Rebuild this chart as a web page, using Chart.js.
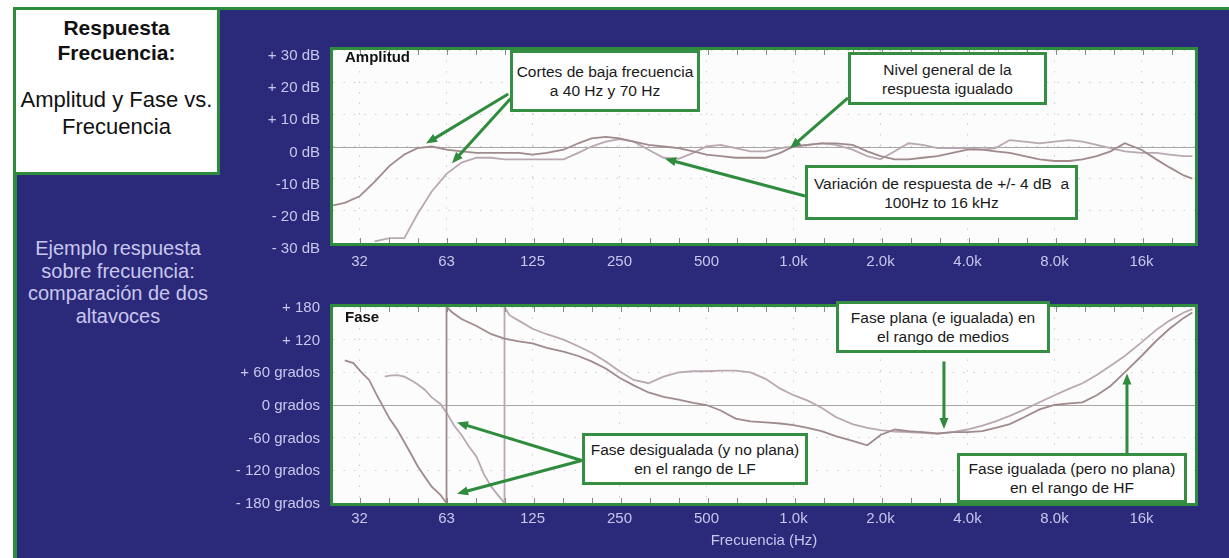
<!DOCTYPE html>
<html lang="es">
<head>
<meta charset="utf-8">
<title>Respuesta Frecuencia: Amplitud y Fase vs. Frecuencia</title>
<script src="https://cdn.jsdelivr.net/npm/chart.js@4.4.1/dist/chart.umd.min.js"></script>
<style>
  html, body { margin: 0; padding: 0; }
  body {
    width: 1229px; height: 558px; position: relative; overflow: hidden;
    background: #fff; font-family: "Liberation Sans", Arial, Helvetica, sans-serif;
  }
  #panel {
    position: absolute; left: 13px; top: 7px; right: 0; bottom: 0;
    background: #2b2a7a; border-left: 4px solid #2d8c3c; border-top: 3px solid #2d8c3c;
  }
  #titleBox {
    position: absolute; left: 13px; top: 7px; width: 207px; height: 168px;
    box-sizing: border-box; background: #fff; border: 3px solid #2d8c3c;
    text-align: center; color: #111;
  }
  #titleBox .t1 { font-weight: bold; font-size: 21px; line-height: 25px; }
  #titleBox .t2 { font-size: 22px; line-height: 27px; }
  #subtitle {
    position: absolute; left: 17px; top: 237px; width: 202px;
    text-align: center; color: #c9c6ee; font-size: 20px; line-height: 22.5px;
  }
  .wrap { position: absolute; left: 200px; }
  .wrap canvas { display: block; }
  .note {
    position: absolute; box-sizing: border-box; background: #fff;
    border: 3px solid #358e42; color: #1a1a1a; font-size: 15.5px; line-height: 19px;
    text-align: center; display: flex; flex-direction: column; justify-content: center;
  }
  .plotLabel { position: absolute; font-weight: bold; font-size: 15px; line-height: 18px; color: #111; }
</style>
</head>
<body>
<div id="panel"></div>
<div id="titleBox">
  <div class="t1" style="margin-top:5px">Respuesta</div>
  <div class="t1">Frecuencia:</div>
  <div class="t2" style="margin-top:21px">Amplitud y Fase vs.</div>
  <div class="t2">Frecuencia</div>
</div>
<div id="subtitle">Ejemplo respuesta<br>sobre frecuencia:<br>comparación de dos<br>altavoces</div>

<div class="wrap" style="top:28px"><canvas id="ampChart" width="1029" height="252"></canvas></div>
<div class="wrap" style="top:285px"><canvas id="phaseChart" width="1029" height="273"></canvas></div>

<div class="plotLabel" style="left:345px;top:48px">Amplitud</div>
<div class="plotLabel" style="left:345px;top:308px">Fase</div>

<div class="note" style="left:510px;top:50px;width:190px;height:62px">Cortes de baja frecuencia<br>a 40 Hz y 70 Hz</div>
<div class="note" style="left:848px;top:52px;width:199px;height:53px">Nivel general de la<br>respuesta igualado</div>
<div class="note" style="left:805px;top:165px;width:273px;height:55px">Variación de respuesta de +/- 4 dB&nbsp; a<br>100Hz to 16 kHz</div>
<div class="note" style="left:582px;top:433px;width:226px;height:52px">Fase desigualada (y no plana)<br>en el rango de LF</div>
<div class="note" style="left:836px;top:301px;width:214px;height:52px">Fase plana (e igualada) en<br>el rango de medios</div>
<div class="note" style="left:957px;top:453px;width:230px;height:50px">Fase igualada (pero no plana)<br>en el rango de HF</div>

<script>
// ---- axis ticks ----
const freqTicks = [31.5, 63, 125, 250, 500, 1000, 2000, 4000, 8000, 16000];
const freqTickLabels = ['32', '63', '125', '250', '500', '1.0k', '2.0k', '4.0k', '8.0k', '16k'];
const ampTicks = [-30, -20, -10, 0, 10, 20, 30];
const ampTickLabels = ['- 30 dB', '- 20 dB', '-10 dB', '0 dB', '+ 10 dB', '+ 20 dB', '+ 30 dB'];
const phaseTicks = [-180, -120, -60, 0, 60, 120, 180];
const phaseTickLabels = ['- 180 grados', '- 120 grados', '-60 grados', '0 grados', '+ 60 grados', '+ 120', '+ 180'];

// ---- amplitude (dB), two speakers ----
const ampFreq = [25, 28, 31.5, 35.5, 40, 45, 50, 56, 63, 71, 80, 90, 100, 112, 125, 140, 160, 180, 200, 224,
  250, 280, 315, 355, 400, 450, 500, 560, 630, 710, 800, 900, 1000, 1120, 1250, 1400, 1600, 1800, 2000, 2240,
  2500, 2800, 3150, 3550, 4000, 4500, 5000, 5600, 6300, 7100, 8000, 9000, 10000, 11200, 12500, 14000, 16000,
  18000, 20000, 22400, 24000];
const ampA = [-18.5, -17.5, -15.5, -11, -6, -2.5, -0.5, 0, -1, -1.5, -2, -2, -2, -2, -2.5, -2, -1, 1, 2.5, 3,
  2.5, 1.5, 0.5, 0, -0.5, -1.5, -2.5, -3, -3.5, -3.5, -3.5, -2, 0, 0.5, 1, 1, 0.5, -1.5, -3, -4,
  -4, -3.5, -3, -2, -1, -1, -1.5, -2, -3, -4, -4.5, -4.5, -4, -3, -1.5, 1, -1,
  -4, -6.5, -9, -10];
const ampB = [null, null, null, -29.5, -28.5, -28.5, -21, -14, -8.5, -5, -3.5, -3.5, -4, -4, -4, -4, -4, -2, 0, 1.5,
  2.3, 1.5, -1, -3.5, -3.8, -2, 0, 0.5, -0.5, -1.5, -1.5, -0.5, 0, 0.5, 1, 0.5, -1, -3, -4, -1.5,
  1, 0.5, -0.5, -0.5, -0.5, -1, -0.5, 2, 1.5, 1, 1.5, 2, 1.5, 0.5, -0.5, -1.5, -2,
  -2, -2.5, -3, -3];

// ---- phase (degrees), two speakers, wrapped at +/-180 ----
const phaseFreqA = [28, 30, 32, 34, 36, 38, 40, 42.5, 45, 47.5, 50, 53, 56, 60, 63, 63, 66, 71, 80, 90,
  100, 112, 125, 140, 160, 180, 200, 224, 250, 280, 315, 355, 400, 450, 500, 560, 630, 710, 800, 900,
  1000, 1120, 1250, 1400, 1600, 1800, 2000, 2240, 2500, 2800, 3150, 3550, 4000, 4500, 5000, 5600, 6300, 7100,
  8000, 9000, 10000, 11200, 12500, 14000, 16000, 18000, 20000, 22400, 24000];
const phaseA = [82, 77, 60, 46, 20, -3, -25, -45, -68, -90, -112, -132, -150, -165, -180, 180, 170, 158, 145, 130,
  122, 117, 113, 105, 98, 90, 80, 67, 50, 36, 23, 15, 10, 4, 0, -10, -25, -30, -32, -34,
  -37, -42, -48, -57, -66, -74, -55, -45, -48, -50, -52, -50, -50, -48, -42, -35, -22, -8,
  0, 3, 5, 18, 35, 60, 90, 118, 140, 160, 170];
const phaseFreqB = [38.5, 40, 42.5, 45, 48, 50, 53, 56, 60, 63, 67, 71, 75, 80, 85, 90, 95, 100, 100, 104,
  112, 125, 140, 160, 180, 200, 224, 250, 280, 315, 355, 400, 450, 500, 560, 630, 710, 800, 900, 1000,
  1120, 1250, 1400, 1600, 1800, 2000, 2240, 2500, 2800, 3150, 3550, 4000, 4500, 5000, 5600, 6300, 7100, 8000,
  9000, 10000, 11200, 12500, 14000, 16000, 18000, 20000, 22400, 24000];
const phaseB = [52, 54, 55, 52, 44, 38, 28, 14, 2, -14, -38, -55, -75, -95, -128, -150, -166, -180, 180, 165,
  155, 140, 130, 120, 108, 96, 80, 62, 46, 40, 52, 60, 62, 62, 63, 63, 60, 48, 30, 18,
  8, -5, -22, -35, -42, -46, -49, -50, -51, -53, -50, -45, -38, -30, -20, -8, 5, 18,
  30, 40, 55, 72, 90, 115, 138, 155, 170, 176];

// annotation arrows, in data units [Hz, value]
const ampArrows = [
  { from: [103, 16.3], to: [53.5, 0.9] },
  { from: [105, 14.9], to: [65.8, -5.2] },
  { from: [1543, 15.1], to: [972, -0.6] },
  { from: [1096, -15.4], to: [359, -3.8] }
];
const phaseArrows = [
  { from: [185, -102], to: [68.5, -32] },
  { from: [185, -102], to: [68.5, -163] },
  { from: [3315, 80], to: [3315, -44] },
  { from: [14250, -97], to: [14250, 58] }
];

const green = '#2f8b3d';
const tickColor = '#c9c6ee';
const lineA = '#a08a8c';
const lineB = '#b9a8b2';

Chart.defaults.font.family = '"Liberation Sans", Arial, Helvetica, sans-serif';

const pts = (xs, ys) => xs.map((x, i) => ({ x: x, y: ys[i] }));

function framePlugin(arrows) {
  return {
    id: 'frame',
    beforeDraw(chart) {
      const { ctx, chartArea: a } = chart;
      ctx.save();
      ctx.fillStyle = '#fcfcfc';
      ctx.fillRect(a.left, a.top, a.width, a.height);
      ctx.restore();
    },
    beforeDatasetsDraw(chart) {
      const { ctx, chartArea: a, scales } = chart;
      const y0 = Math.round(scales.y.getPixelForValue(0)) + 0.5;
      ctx.save();
      ctx.strokeStyle = '#aaa5a7';
      ctx.lineWidth = 1;
      ctx.beginPath();
      ctx.moveTo(a.left, y0);
      ctx.lineTo(a.right, y0);
      ctx.stroke();
      ctx.restore();
    },
    afterDatasetsDraw(chart) {
      const { ctx, scales: { x, y } } = chart;
      ctx.save();
      ctx.strokeStyle = green;
      ctx.fillStyle = green;
      ctx.lineWidth = 3;
      arrows.forEach(ar => {
        const x1 = x.getPixelForValue(ar.from[0]), y1 = y.getPixelForValue(ar.from[1]);
        const x2 = x.getPixelForValue(ar.to[0]), y2 = y.getPixelForValue(ar.to[1]);
        const ang = Math.atan2(y2 - y1, x2 - x1);
        const c = Math.cos(ang), s = Math.sin(ang);
        const head = 11, half = 4.5;
        ctx.beginPath();
        ctx.moveTo(x1, y1);
        ctx.lineTo(x2 - c * head * 0.7, y2 - s * head * 0.7);
        ctx.stroke();
        ctx.beginPath();
        ctx.moveTo(x2, y2);
        ctx.lineTo(x2 - head * c + half * s, y2 - head * s - half * c);
        ctx.lineTo(x2 - head * c - half * s, y2 - head * s + half * c);
        ctx.closePath();
        ctx.fill();
      });
      ctx.restore();
    },
    afterDraw(chart) {
      const { ctx, chartArea: a, scales: { x } } = chart;
      ctx.save();
      // small third-octave marks on the top and bottom edges
      ctx.strokeStyle = '#8c8888';
      ctx.lineWidth = 1;
      for (let k = -1; k <= 30; k++) {
        const px = Math.round(x.getPixelForValue(31.5 * Math.pow(2, k / 3))) + 0.5;
        if (px <= a.left + 2 || px >= a.right - 2) continue;
        ctx.beginPath();
        ctx.moveTo(px, a.top); ctx.lineTo(px, a.top + 5);
        ctx.moveTo(px, a.bottom); ctx.lineTo(px, a.bottom - 5);
        ctx.stroke();
      }
      ctx.strokeStyle = green;
      ctx.lineWidth = 3;
      ctx.strokeRect(a.left - 1.5, a.top - 1.5, a.width + 3, a.height + 3);
      ctx.restore();
    }
  };
}

function makeChart(id, datasets, cfg) {
  return new Chart(document.getElementById(id), {
    type: 'line',
    data: { datasets: datasets },
    options: {
      responsive: false,
      animation: false,
      events: [],
      layout: { padding: { top: cfg.padTop, right: 34, bottom: 0, left: 0 } },
      plugins: { legend: { display: false }, tooltip: { enabled: false } },
      elements: { point: { radius: 0 }, line: { tension: 0, borderWidth: 1.8 } },
      scales: {
        x: {
          type: 'logarithmic',
          min: 25.5,
          max: 24500,
          afterBuildTicks: axis => { axis.ticks = freqTicks.map(v => ({ value: v })); },
          afterFit: axis => { axis.height = cfg.xHeight; },
          grid: { color: 'rgba(120,118,140,0.35)', drawTicks: false },
          border: { display: false, dash: [1.5, 9] },
          ticks: {
            autoSkip: false, maxRotation: 0, padding: cfg.xPad,
            color: tickColor, font: { size: 15 },
            callback: v => { const i = freqTicks.indexOf(v); return i >= 0 ? freqTickLabels[i] : ''; }
          },
          title: {
            display: !!cfg.xTitle, text: cfg.xTitle || '', color: tickColor,
            font: { size: 15 }, padding: { top: 0, bottom: 8 }
          }
        },
        y: {
          min: cfg.yTicks[0],
          max: cfg.yTicks[cfg.yTicks.length - 1],
          afterBuildTicks: axis => { axis.ticks = cfg.yTicks.map(v => ({ value: v })); },
          afterFit: axis => { axis.width = 133; },
          grid: { color: 'rgba(120,118,140,0.35)', drawTicks: false },
          border: { display: false, dash: [1.5, 9] },
          ticks: {
            padding: 13, labelOffset: cfg.yLabelOffset,
            color: tickColor, font: { size: 15 },
            callback: v => { const i = cfg.yTicks.indexOf(v); return i >= 0 ? cfg.yLabels[i] : ''; }
          }
        }
      }
    },
    plugins: [framePlugin(cfg.arrows)]
  });
}

makeChart('ampChart', [
  { data: pts(ampFreq, ampA), borderColor: lineA, spanGaps: false },
  { data: pts(ampFreq, ampB), borderColor: lineB, spanGaps: false }
], {
  padTop: 9, xHeight: 37, xPad: 10, yLabelOffset: 6,
  yTicks: ampTicks, yLabels: ampTickLabels, arrows: ampArrows
});

makeChart('phaseChart', [
  { data: pts(phaseFreqA, phaseA), borderColor: lineA },
  { data: pts(phaseFreqB, phaseB), borderColor: lineB }
], {
  padTop: 9, xHeight: 55, xPad: 7, yLabelOffset: 1, xTitle: 'Frecuencia (Hz)',
  yTicks: phaseTicks, yLabels: phaseTickLabels, arrows: phaseArrows
});
</script>
</body>
</html>
